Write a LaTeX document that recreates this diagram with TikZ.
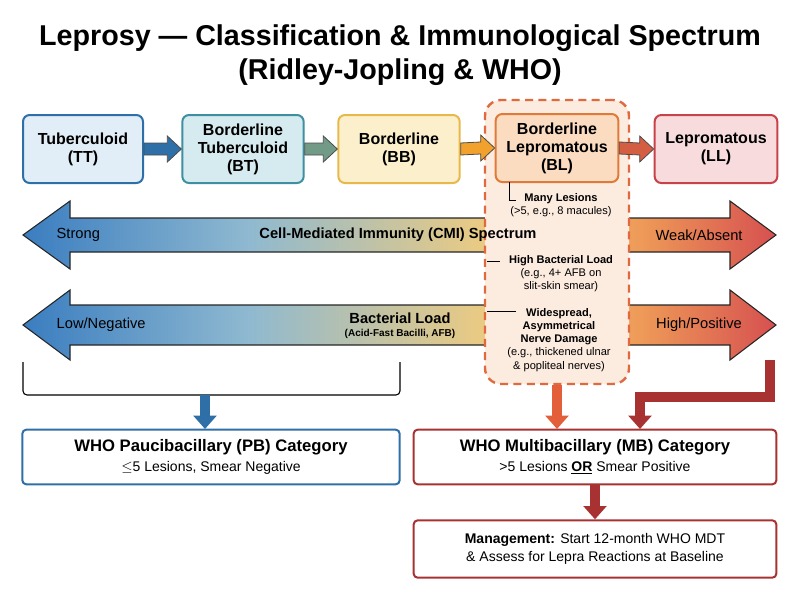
\documentclass[tikz,border=0pt]{standalone}
\usepackage{fontspec}
\setmainfont{Liberation Sans}
\usetikzlibrary{arrows.meta,calc}
\definecolor{tb}{HTML}{2F6FA8}
\definecolor{tbf}{HTML}{E1EEF8}
\definecolor{btb}{HTML}{3E8FA0}
\definecolor{btf}{HTML}{D5EBEF}
\definecolor{bbb}{HTML}{E8B84A}
\definecolor{bbf}{HTML}{FCF0CC}
\definecolor{blb}{HTML}{E07A3A}
\definecolor{blf}{HTML}{FBDCC0}
\definecolor{llb}{HTML}{C8424A}
\definecolor{llf}{HTML}{F8DCDD}
\definecolor{dash}{HTML}{E06A40}
\definecolor{dashf}{HTML}{FCEBDF}
\definecolor{mbb}{HTML}{A83232}
\definecolor{s0}{HTML}{3A7DC0}
\definecolor{s1}{HTML}{8FB9D0}
\definecolor{s2}{HTML}{EDCB80}
\definecolor{s3}{HTML}{EE9A58}
\definecolor{s4}{HTML}{D65050}
\pgfdeclarehorizontalshading{spec}{100bp}{color(0bp)=(s0); color(25bp)=(s0); color(40bp)=(s1); color(56bp)=(s2); color(66bp)=(s3); color(75bp)=(s4); color(100bp)=(s4)}
\tikzset{
 px/.style={x=0.75pt,y=-0.75pt},
 box/.style={draw,rounded corners=5pt,line width=1.5pt,align=center,font=\bfseries\fontsize{12}{13.5}\selectfont,inner sep=0pt},
 note/.style={align=center,font=\fontsize{8.3}{9.8}\selectfont},
}
\begin{document}
\begin{tikzpicture}[px]
\useasboundingbox (0,0) rectangle (800,600);
\node[font=\bfseries\fontsize{21.5}{25}\selectfont,align=center] (title) at (400,55) {Leprosy — Classification \& Immunological Spectrum\\(Ridley-Jopling \& WHO)};
% big double arrows
\foreach \c/\h/\b in {235/34/17,325/35/20}{
 \shade[shading=spec,draw=black!85,line width=0.8pt] (23,\c) -- (70,\c-\h) -- (70,\c-\b) -- (730,\c-\b) -- (730,\c-\h) -- (776,\c) -- (730,\c+\h) -- (730,\c+\b) -- (70,\c+\b) -- (70,\c+\h) -- cycle;
}
\node[font=\fontsize{11}{13}\selectfont,anchor=west] (strong) at (52,235) {Strong};
\node[font=\fontsize{11}{13}\selectfont,anchor=west] (low) at (52,325) {Low/Negative};
\node[font=\fontsize{11}{13}\selectfont] (weak) at (699,235) {Weak/Absent};
\node[font=\fontsize{11}{13}\selectfont] (high) at (699,325) {High/Positive};
\node[font=\bfseries\fontsize{11}{13}\selectfont] (bl) at (400,318) {Bacterial Load};
\node[font=\bfseries\fontsize{7.5}{9}\selectfont] (afb) at (400,334) {(Acid-Fast Bacilli, AFB)};
% dashed box
\node[draw=dash,fill=dashf,dashed,dash pattern=on 6pt off 4pt,line width=1.8pt,rounded corners=12pt,minimum width=108pt,minimum height=213pt] (dbox) at (557,242) {};
\node[font=\bfseries\fontsize{11}{13}\selectfont] (cmi) at (398,235) {Cell-Mediated Immunity (CMI) Spectrum};
% top boxes
\node[box,draw=tb,fill=tbf,minimum width=90pt,minimum height=51pt] (tt) at (83,149) {Tuberculoid\\(TT)};
\node[box,draw=btb,fill=btf,minimum width=91pt,minimum height=51pt] (bt) at (243,149) {Borderline\\Tuberculoid\\(BT)};
\node[box,draw=bbb,fill=bbf,minimum width=91pt,minimum height=51pt] (bb) at (399,149) {Borderline\\(BB)};
\node[box,draw=blb,fill=blf,minimum width=92pt,minimum height=51pt] (blx) at (557,148) {Borderline\\Lepromatous\\(BL)};
\node[box,draw=llb,fill=llf,minimum width=92pt,minimum height=51pt] (ll) at (716,149) {Lepromatous\\(LL)};
% small block arrows
\foreach \a/\b/\cl in {tt/bt/tb,bt/bb/btb!70!bbb,bb/blx/bbb!60!orange,blx/ll/blb!50!llb}{
 \path (\a.east) coordinate (s) (\b.west) coordinate (e);
 \fill[\cl,draw=black!70,line width=0.6pt] ($(s)+(0,-6)$) -- ($(e)+(-14,-6)$) -- ($(e)+(-14,-13)$) -- (e) -- ($(e)+(-14,13)$) -- ($(e)+(-14,6)$) -- ($(s)+(0,6)$) -- cycle;
}
% notes in dashed box
\node[note] (n1) at (561,205) {\textbf{Many Lesions}\\(>5, e.g., 8 macules)};
\coordinate (c1) at (509,182); \coordinate (c1e) at (516,200);
\draw[line width=0.7pt] (c1) |- (c1e);
\node[note] (n2) at (561,274) {\textbf{High Bacterial Load}\\(e.g., 4+ AFB on\\slit-skin smear)};
\node[note] (n3) at (559,340) {\textbf{Widespread,}\\\textbf{Asymmetrical}\\\textbf{Nerve Damage}\\(e.g., thickened ulnar\\\& popliteal nerves)};
\coordinate (l2) at (487,261); \coordinate (l2e) at (500,261); \draw[line width=0.7pt] (l2) -- (l2e);
\coordinate (l3) at (487,311); \coordinate (l3e) at (516,311); \draw[line width=0.7pt] (l3) -- (l3e);
% bracket
\coordinate (bk1) at (23,362); \coordinate (bk2) at (400,362);
\draw[line width=0.8pt,rounded corners=3pt] (bk1) -- (23,395) -- (400,395) -- (bk2);
\coordinate (bkm) at (205,395); \coordinate (pbin) at (205,429);
% bottom boxes
\node[draw=tb,fill=white,line width=1.5pt,rounded corners=3pt,minimum width=283pt,minimum height=41pt,inner sep=0pt] (pb) at (211,457) {};
\node[font=\bfseries\fontsize{12.5}{14}\selectfont] (pbt) at (211,447) {WHO Paucibacillary (PB) Category};
\node[font=\fontsize{10.5}{12}\selectfont] (pbs) at (211,468) {$\leq$5 Lesions, Smear Negative};
\node[draw=mbb,fill=white,line width=1.5pt,rounded corners=3pt,minimum width=272pt,minimum height=41pt,inner sep=0pt] (mb) at (595,457) {};
\node[font=\bfseries\fontsize{12.5}{14}\selectfont] (mbt) at (595,447) {WHO Multibacillary (MB) Category};
\node[font=\fontsize{10.5}{12}\selectfont] (mbs) at (595,468) {>5 Lesions \underline{\textbf{OR}} Smear Positive};
\node[draw=mbb,fill=white,line width=1.5pt,rounded corners=3pt,minimum width=272pt,minimum height=43pt,inner sep=0pt,align=center,font=\fontsize{10.5}{13}\selectfont] (mg) at (595,549) {\textbf{Management:} Start 12-month WHO MDT\\\& Assess for Lepra Reactions at Baseline};
% down arrows
\tikzset{dn/.style={line width=7pt,-{Triangle[width=17pt,length=10pt]},draw=#1}}
\draw[dn=tb] (bkm) -- (pbin);
\coordinate (mbin) at (557,429);
\draw[dn=dash!90!red] (dbox.south) -- (mbin);
\coordinate (rr) at (770,360); \coordinate (rr2) at (640,429);
\draw[dn=mbb] (rr) -- (770,397) -- (640,397) -- (rr2);
\draw[dn=mbb] (mb.south) -- (mg.north);
\end{tikzpicture}
\end{document}
